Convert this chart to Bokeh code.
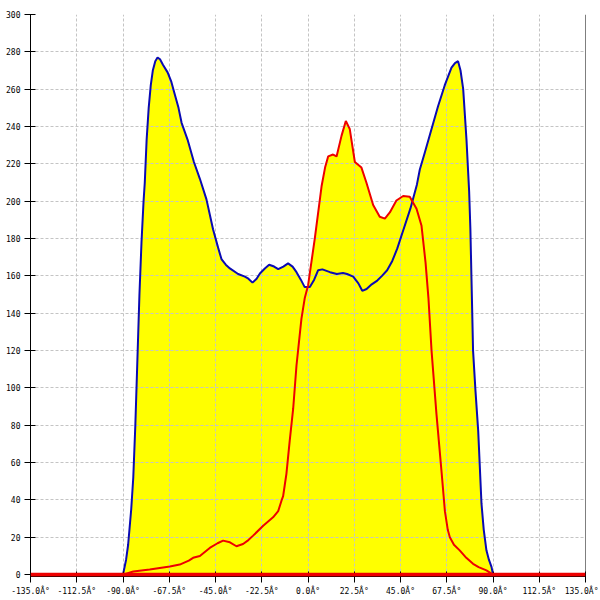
from bokeh.plotting import figure
from bokeh.models import Span, Range1d
from bokeh.embed import file_html
from bokeh.resources import INLINE

# Series 1 (blue outline)
blue_x = [-90, -88.5, -87.5, -86, -85, -84, -83, -82, -81, -80, -79.4, -78.5, -77.5, -76.5,
          -75.5, -74.3, -73.2, -72, -70.5, -68.3, -66.5, -65, -63, -61.5, -58.6, -55.5, -52.6,
          -49.4, -46.2, -43.7, -42.1, -40, -38, -34, -30.7, -29, -27, -25, -23.4, -21, -18.9,
          -16.5, -14.5, -12, -9.7, -7.5, -5.6, -3.5, -1.6, 0.9, 3, 4.9, 7, 10.7, 14, 17, 19,
          22, 24.5, 26.4, 28.5, 31, 33.7, 36, 38.5, 41, 43.4, 46.5, 49.8, 53, 54.4, 56.8, 60.1,
          63.3, 66.5, 69.8, 71.5, 73, 74.2, 75.5, 77.1, 78.4, 79, 79.5, 80.3, 81.5, 82.8, 84.4,
          85.5, 86.8, 88, 89.3, 90]
blue_y = [0, 8, 16, 35, 52, 80, 115, 150, 178, 200, 210, 233, 250, 262,
          270, 275, 277, 276, 273, 269, 264, 258, 250, 242, 233, 221, 212,
          201, 185, 175, 169, 166, 164, 161, 159.6, 158.5, 156.4, 158.5, 161.3, 164, 166,
          165, 163.6, 165, 166.7, 165, 162, 158, 154, 154, 158, 163, 163.5, 162, 161, 161.5, 161,
          159.6, 156, 152, 153, 155.5, 157.5, 160, 163, 168, 174.6, 185, 196, 209, 217, 226, 238.7,
          251, 262, 271.5, 274, 275, 270, 260, 233, 205, 185, 160, 120, 98, 77, 38,
          24, 13, 8, 4, 0]

# Series 2 (red outline)
red_x = [-90, -85, -77, -67.2, -62.4, -58, -55.9, -52.6, -47.8, -44, -41.3, -38, -34.8, -31.6,
         -29, -26.7, -21.8, -17, -14.5, -12.9, -12.1, -11.3, -10.5, -8.9, -7.2, -5.6, -3.2, -1.6,
         0.05, 3.3, 6.6, 8.3, 9.8, 12.2, 13.9, 16.3, 18.4, 20.3, 22.8, 26, 28.4, 31.7, 34.9, 37.4,
         39.8, 43, 46.3, 49.5, 52.8, 55.2, 57.2, 58.6, 60.1, 62.5, 64.9, 66.6, 68, 69, 71, 73.8,
         77, 80.3, 83, 86.8, 90]
red_y = [0, 1.7, 2.8, 4.4, 5.4, 7.5, 9, 10, 14.3, 16.8, 18.2, 17.3, 15.2, 16.4,
         18.5, 20.9, 26.2, 30.7, 34, 39.6, 42, 48, 54, 71.6, 89, 112, 137, 148,
         155, 180, 208, 218, 224, 225, 224, 235, 243, 238.7, 221, 218, 210, 198, 191.7, 190.7,
         194, 200.4, 202.8, 202.4, 196, 187, 167, 148, 120, 86, 56, 34, 24, 20, 16, 13,
         9, 5.8, 4, 2.3, 0]

x_ticks = [-135, -112.5, -90, -67.5, -45, -22.5, 0, 22.5, 45, 67.5, 90, 112.5, 135]
x_tick_labels = ["-135.0\u00c2\u00b0", "-112.5\u00c2\u00b0", "-90.0\u00c2\u00b0", "-67.5\u00c2\u00b0",
                 "-45.0\u00c2\u00b0", "-22.5\u00c2\u00b0", "0.0\u00c2\u00b0", "22.5\u00c2\u00b0",
                 "45.0\u00c2\u00b0", "67.5\u00c2\u00b0", "90.0\u00c2\u00b0", "112.5\u00c2\u00b0",
                 "135.0\u00c2\u00b0"]
y_ticks = [0, 20, 40, 60, 80, 100, 120, 140, 160, 180, 200, 220, 240, 260, 280, 300]

p = figure(width=598, height=598, output_backend="svg", toolbar_location=None,
           x_range=Range1d(-135, 135), y_range=Range1d(-1, 300),
           min_border_left=30, min_border_right=13, min_border_top=14, min_border_bottom=21)
p.outline_line_color = None
p.background_fill_color = "white"
p.border_fill_color = "white"

p.varea(x=blue_x, y1=0, y2=blue_y, fill_color="#ffff00", level="image")
p.varea(x=red_x, y1=0, y2=red_y, fill_color="#ffff00", level="image")
p.line(blue_x, blue_y, line_color="#0a0ab4", line_width=2)
p.line(red_x, red_y, line_color="#ee0000", line_width=2)

p.xaxis.ticker = x_ticks
p.xaxis.major_label_overrides = {t: lab for t, lab in zip(x_ticks, x_tick_labels)}
p.yaxis.ticker = y_ticks

for ax in (p.xaxis[0], p.yaxis[0]):
    ax.major_label_text_font = "DejaVu Sans Mono"
    ax.major_label_text_font_size = "8px"
    ax.major_label_text_color = "black"
    ax.major_label_standoff = 4
    ax.axis_line_color = "black"
    ax.major_tick_line_color = "black"
    ax.minor_tick_line_color = None
    ax.major_tick_in = 5
    ax.major_tick_out = 6

for g in (p.xgrid[0], p.ygrid[0]):
    g.grid_line_color = "#c4c4c4"
    g.grid_line_dash = "3 2"
    g.grid_line_width = 1
    g.level = "underlay"

p.add_layout(Span(location=135, dimension="height", line_color="black", line_width=1))
p.add_layout(Span(location=0, dimension="width", line_color="#ee0000", line_width=4))

open("out.html", "w").write(file_html(p, INLINE))
